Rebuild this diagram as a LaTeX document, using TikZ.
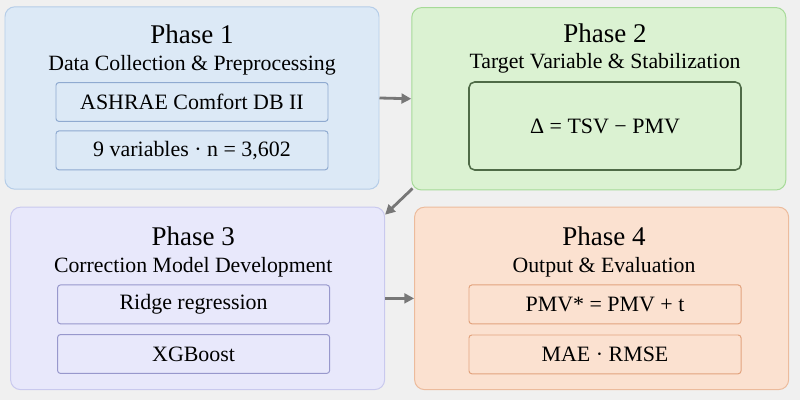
\documentclass[tikz,border=0pt]{standalone}
\usepackage{fontspec}
\setmainfont{Liberation Serif}
\newfontfamily\phasefont{Liberation Serif}
\usetikzlibrary{arrows.meta,positioning,calc}

\definecolor{bgcol}{HTML}{F0F0F0}
\definecolor{blfill}{HTML}{DCE9F6}
\definecolor{bledge}{HTML}{B5CDE8}
\definecolor{blinner}{HTML}{8FAAD0}
\definecolor{grfill}{HTML}{DBF2D2}
\definecolor{gredge}{HTML}{A6DA98}
\definecolor{grinner}{HTML}{4F6B47}
\definecolor{vifill}{HTML}{E8E8FB}
\definecolor{viedge}{HTML}{C9C9EE}
\definecolor{viinner}{HTML}{9898CC}
\definecolor{orfill}{HTML}{FBE1D0}
\definecolor{oredge}{HTML}{ECBB9C}
\definecolor{orinner}{HTML}{E2A37E}
\definecolor{arrgray}{HTML}{777777}

\begin{document}
\begin{tikzpicture}[
	phase/.style={rounded corners=7pt, line width=0.7pt, minimum width=9.35cm, minimum height=4.56cm},
	item/.style={rounded corners=2pt, line width=0.7pt, minimum width=6.8cm, minimum height=0.97cm, inner sep=0pt, font=\phasefont\fontsize{15.6}{18}\selectfont},
	ttl/.style={anchor=base, font=\phasefont\fontsize{19.2}{22}\selectfont},
	sub/.style={anchor=base, font=\phasefont\fontsize{15.5}{18}\selectfont},
	flow/.style={-{Triangle[length=7pt,width=7pt]}, line width=2pt, arrgray}]
	\fill[bgcol] (0,0) rectangle (20,10);
	
	% Phase 1
	\node[phase, draw=bledge, fill=blfill] (p1) at (4.8,7.55) {};
	\node[ttl] (t1) at (4.8,8.9) {Phase 1};
	\node[sub] (s1) at (4.8,8.225) {Data Collection \& Preprocessing};
	\node[item, draw=blinner, fill=blfill] (p1a) at (4.8,7.45) {ASHRAE Comfort DB II};
	\node[item, draw=blinner, fill=blfill] (p1b) at (4.8,6.24) {9 variables · n = 3,602};
	
	% Phase 2
	\node[phase, draw=gredge, fill=grfill] (p2) at (14.97,7.53) {};
	\node[ttl] (t2) at (15.125,8.925) {Phase 2};
	\node[sub] (s2) at (15.125,8.275) {Target Variable \& Stabilization};
	\node[item, draw=grinner, fill=grfill, line width=1.1pt, rounded corners=4pt, minimum height=2.2cm] (p2a) at (15.125,6.85) {Δ = TSV − PMV};
	
	% Phase 3
	\node[phase, draw=viedge, fill=vifill] (p3) at (4.94,2.54) {};
	\node[ttl] (t3) at (4.83,3.85) {Phase 3};
	\node[sub] (s3) at (4.83,3.175) {Correction Model Development};
	\node[item, draw=viinner, fill=vifill] (p3a) at (4.84,2.39) {Ridge regression};
	\node[item, draw=viinner, fill=vifill] (p3b) at (4.84,1.15) {XGBoost};
	
	% Phase 4
	\node[phase, draw=oredge, fill=orfill] (p4) at (15.04,2.54) {};
	\node[ttl] (t4) at (15.1,3.85) {Phase 4};
	\node[sub] (s4) at (15.1,3.175) {Output \& Evaluation};
	\node[item, draw=orinner, fill=orfill] (p4a) at (15.125,2.39) {PMV* = PMV + t};
	\node[item, draw=orinner, fill=orfill] (p4b) at (15.125,1.14) {MAE · RMSE};
	
	% Draw flow arrows
	\draw[flow] (p1.east) -- (p2.west);
	\draw[flow] ([shift={(0.03,0.05)}]p2.south west) -- ([shift={(0,-0.2)}]p3.north east);
	\draw[flow] (p3.east) -- (p4.west);
\end{tikzpicture}
\end{document}
